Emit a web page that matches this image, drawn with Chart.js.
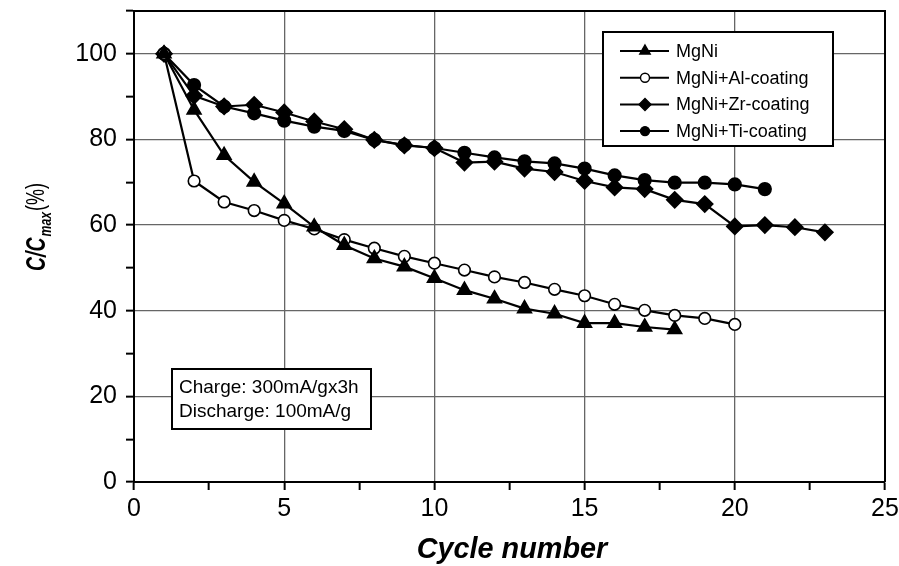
<!DOCTYPE html>
<html>
<head>
<meta charset="utf-8">
<script src="https://cdn.jsdelivr.net/npm/chart.js@4/dist/chart.umd.min.js"></script>
<style>
  html,body{margin:0;padding:0;background:#fff}
  #wrap{width:899px;height:566px}
</style>
</head>
<body>
<div id="wrap"><canvas id="c" width="899" height="566"></canvas></div>
<script>
// capacity retention per cycle, C/Cmax in %
var cycles = [1,2,3,4,5,6,7,8,9,10,11,12,13,14,15,16,17,18,19,20,21,22,23]
var mgNi   = [100,86.9,76.3,70.1,65.0,59.6,55.3,52.2,50.3,47.6,44.8,42.8,40.5,39.3,37.1,37.1,36.2,35.6]
var alCoat = [100,70.3,65.4,63.4,61.1,59.1,56.6,54.6,52.7,51.1,49.5,47.9,46.6,45.0,43.5,41.5,40.1,38.9,38.2,36.8]
var zrCoat = [100,90.2,87.7,88.1,86.3,84.2,82.4,79.9,78.6,78.0,74.6,74.8,73.2,72.4,70.3,68.8,68.4,65.9,64.9,59.7,60.0,59.5,58.3]
var tiCoat = [100,92.7,87.7,86.1,84.4,83.0,82.0,79.9,78.7,78.0,76.9,75.8,74.9,74.4,73.2,71.6,70.5,69.9,69.9,69.5,68.4]

var seriesNames = ['MgNi','MgNi+Al-coating','MgNi+Zr-coating','MgNi+Ti-coating']
var noteLines = ['Charge: 300mA/gx3h','Discharge: 100mA/g']
var xTicks = [0,5,10,15,20,25]
var yTicks = [0,20,40,60,80,100]

var sans = "'Liberation Sans',Arial,Helvetica,sans-serif"

function pts(arr){
    return arr.map(function(v,i){ return {x:cycles[i],y:v} })
}

function ds(label,arr,style,fill,r){
    return {
        label:label, data:pts(arr),
        borderColor:'#000', borderWidth:2.2,
        pointStyle:style, pointRadius:r, pointHoverRadius:r,
        pointBackgroundColor:fill, pointBorderColor:'#000', pointBorderWidth:1.6,
        tension:0
    }
}

var datasets = [
    ds(seriesNames[0],mgNi,'triangle','#000',8),
    ds(seriesNames[1],alCoat,'circle','#fff',5.8),
    ds(seriesNames[2],zrCoat,'rectRot','#000',8),
    ds(seriesNames[3],tiCoat,'circle','#000',6.3)
]

// condensed text: squeeze along the writing direction
function squeezed(ctx,text,x,y,sx){
    ctx.save(); ctx.translate(x,y); ctx.scale(sx,1); ctx.fillText(text,0,0); ctx.restore()
}

// frame, legend box, note box and axis titles
var decorations = {
    id:'decorations',
    afterDatasetsDraw:function(chart){
        var ctx = chart.ctx, a = chart.chartArea
        ctx.save()
        // top/right frame
        ctx.strokeStyle = '#000'; ctx.lineWidth = 2
        ctx.beginPath()
        ctx.moveTo(a.left,a.top); ctx.lineTo(a.right,a.top); ctx.lineTo(a.right,a.bottom)
        ctx.stroke()

        // legend
        var lx = 603, ly = 32, lw = 230, lh = 114
        ctx.fillStyle = '#fff'; ctx.fillRect(lx,ly,lw,lh)
        ctx.lineWidth = 2; ctx.strokeRect(lx,ly,lw,lh)
        ctx.font = '18px ' + sans
        ctx.textBaseline = 'middle'; ctx.textAlign = 'left'
        chart.data.datasets.forEach(function(d,i){
            var y = ly + 19 + i*26.7
            ctx.strokeStyle = '#000'; ctx.lineWidth = 2
            ctx.beginPath(); ctx.moveTo(lx+17,y); ctx.lineTo(lx+66,y); ctx.stroke()
            ctx.fillStyle = d.pointBackgroundColor; ctx.lineWidth = 1.4
            Chart.helpers.drawPoint(ctx,{pointStyle:d.pointStyle,radius:d.pointStyle==='circle'?4.5:6,rotation:0,borderWidth:1.4},lx+42,y)
            ctx.fillStyle = '#000'
            ctx.fillText(d.label,lx+73,y+1)
        })

        // test conditions note
        var nx = 172, ny = 369, nw = 199, nh = 60
        ctx.fillStyle = '#fff'; ctx.fillRect(nx,ny,nw,nh)
        ctx.strokeStyle = '#000'; ctx.lineWidth = 2; ctx.strokeRect(nx,ny,nw,nh)
        ctx.fillStyle = '#000'; ctx.font = '19px ' + sans
        noteLines.forEach(function(t,i){ ctx.fillText(t,nx+7,ny+19+i*24) })

        // x title
        ctx.font = 'italic bold 30px ' + sans
        ctx.textAlign = 'left'; ctx.textBaseline = 'alphabetic'
        var sx = 0.96, wx = ctx.measureText('Cycle number').width*sx
        squeezed(ctx,'Cycle number',512-wx/2,558,sx)

        // y title with subscript
        ctx.translate(36,228); ctx.rotate(-Math.PI/2)
        var sy = 0.72
        var f1 = 'italic bold 27px ' + sans, f2 = 'italic bold 17px ' + sans, f3 = '25px ' + sans
        ctx.font = f1; var w1 = ctx.measureText('C/C').width*sy
        ctx.font = f2; var w2 = ctx.measureText('max').width*sy
        ctx.font = f3; var w3 = ctx.measureText('(%)').width*sy
        var x0 = -(w1+w2+w3)/2
        ctx.font = f1; squeezed(ctx,'C/C',x0,9,sy)
        ctx.font = f2; squeezed(ctx,'max',x0+w1+1,15,sy)
        ctx.font = f3; squeezed(ctx,'(%)',x0+w1+w2+2,8,sy)
        ctx.restore()
    }
}

new Chart(document.getElementById('c'),{
    type:'line',
    data:{datasets:datasets},
    options:{
        responsive:false, animation:false, devicePixelRatio:1,
        layout:{padding:{top:11,right:14,left:0,bottom:0}},
        plugins:{legend:{display:false},tooltip:{enabled:false}},
        scales:{
            x:{
                type:'linear', min:0, max:25,
                afterFit:function(s){ s.height = 84; s.paddingLeft = 0; s.paddingRight = 0 },
                afterBuildTicks:function(s){
                    var t=[]; for(var v=0;v<=25;v+=2.5) t.push({value:v}); s.ticks=t
                },
                border:{color:'#000',width:2},
                grid:{
                    color:function(c){ var v=c.tick.value; return (xTicks.indexOf(v)>0 && v<25)?'#666':'rgba(0,0,0,0)' },
                    lineWidth:1.3, tickLength:8, tickColor:'#000', tickWidth:2
                },
                ticks:{
                    autoSkip:false, maxRotation:0, padding:4, color:'#000',
                    font:{family:sans,size:25},
                    callback:function(v){ return xTicks.indexOf(v)>=0 ? String(v) : '' }
                }
            },
            y:{
                min:0, max:110,
                afterFit:function(s){ s.width = 134; s.paddingTop = 0; s.paddingBottom = 0 },
                afterBuildTicks:function(s){
                    var t=[]; for(var v=0;v<=110;v+=10) t.push({value:v}); s.ticks=t
                },
                border:{color:'#000',width:2},
                grid:{
                    color:function(c){ var v=c.tick.value; return (yTicks.indexOf(v)>0)?'#666':'rgba(0,0,0,0)' },
                    lineWidth:1.3, tickLength:8, tickColor:'#000', tickWidth:2
                },
                ticks:{
                    autoSkip:false, padding:9, color:'#000',
                    font:{family:sans,size:25},
                    callback:function(v){ return yTicks.indexOf(v)>=0 ? String(v) : '' }
                }
            }
        }
    },
    plugins:[decorations]
})
</script>
</body>
</html>
